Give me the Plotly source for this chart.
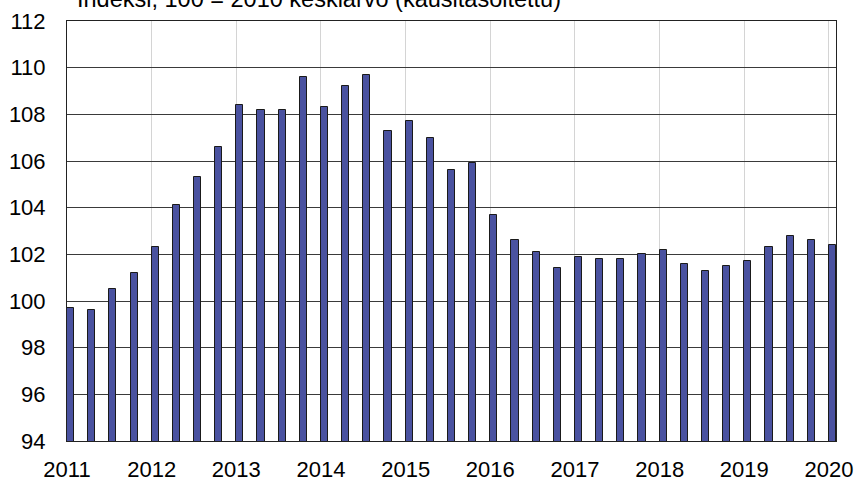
import plotly.graph_objects as go

# quarterly index, 2011Q1 .. 2020Q1
years = [2011, 2012, 2013, 2014, 2015, 2016, 2017, 2018, 2019, 2020]
quarter_pos = [2011 + 0.25 * i for i in range(37)]
values = [
    99.7, 99.6, 100.5, 101.2,
    102.3, 104.1, 105.3, 106.6,
    108.4, 108.2, 108.2, 109.6,
    108.3, 109.2, 109.7, 107.3,
    107.7, 107.0, 105.6, 105.9,
    103.7, 102.6, 102.1, 101.4,
    101.9, 101.8, 101.8, 102.0,
    102.2, 101.6, 101.3, 101.5,
    101.7, 102.3, 102.8, 102.6,
    102.4,
]
y_ticks = [94, 96, 98, 100, 102, 104, 106, 108, 110, 112]
subtitle = "Indeksi, 100 = 2010 keskiarvo (kausitasoitettu)"

bar_w = 0.083
font = "Arial, Liberation Sans, sans-serif"

fig = go.Figure()
fig.add_trace(go.Bar(
    x=quarter_pos, y=values,
    width=bar_w, offset=0,
    marker=dict(color="#4A52A0", line=dict(color="#1a1a1a", width=1)),
    showlegend=False,
))

fig.add_annotation(
    text=subtitle, xref="paper", yref="paper",
    x=0.011, y=1, xanchor="left", yanchor="bottom", yshift=7,
    showarrow=False, font=dict(family=font, size=23.5, color="black"),
)

fig.update_layout(
    width=859, height=479,
    margin=dict(l=67, r=23, t=21, b=38, autoexpand=False),
    paper_bgcolor="white", plot_bgcolor="white",
    font=dict(family=font, color="black"),
    bargap=0,
)
fig.update_xaxes(
    range=[2011, 2020 + bar_w], tickvals=years, ticktext=[str(y) for y in years],
    showgrid=True, gridcolor="#d4d4d4", gridwidth=1,
    showline=True, linecolor="#222", linewidth=1, mirror=True,
    ticks="", ticklabelstandoff=9, tickfont=dict(size=22), zeroline=False,
    automargin=False,
)
fig.update_yaxes(
    range=[94, 112], tickvals=y_ticks,
    showgrid=True, gridcolor="#3a3a3a", gridwidth=1,
    showline=True, linecolor="#222", linewidth=1, mirror=True,
    ticks="", ticklabelstandoff=16, tickfont=dict(size=22), zeroline=False,
    automargin=False,
)

# page body has a default 8px margin; drop it so the figure fills the window
fig.write_html("out.html", config={"displayModeBar": False},
               post_script="document.body.style.margin='0';")
